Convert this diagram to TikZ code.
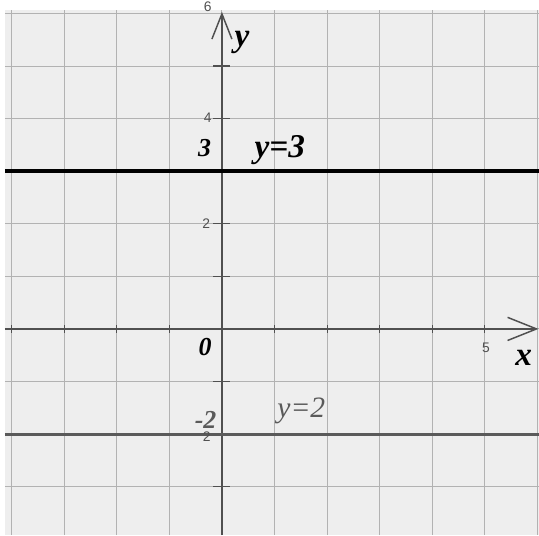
\documentclass[tikz,border=0pt]{standalone}
\usepackage{fontspec}
\setmainfont{Liberation Serif}
\setsansfont{Liberation Sans}
\usetikzlibrary{arrows.meta}
\definecolor{paper}{RGB}{238,238,238}
\definecolor{gridc}{RGB}{178,178,178}
\definecolor{axisc}{RGB}{80,80,80}
\definecolor{lowline}{RGB}{90,90,90}
\tikzset{
  ticklbl/.style={font=\sffamily\fontsize{7.5}{8}\selectfont,text=axisc,inner sep=0pt},
  biglbl/.style={font=\bfseries\itshape\fontsize{18}{19}\selectfont,inner sep=0pt},
  midlbl/.style={font=\bfseries\itshape\fontsize{14}{15}\selectfont,inner sep=0pt},
  greylbl/.style={font=\bfseries\itshape\fontsize{14}{15}\selectfont,text=lowline,inner sep=0pt},
  lowlbl/.style={font=\itshape\fontsize{16}{17}\selectfont,text=lowline,inner sep=0pt},
}
\begin{document}
\begin{tikzpicture}
  \useasboundingbox (-4.22,-3.92) rectangle (6.03,6.255);
  \fill[paper] (-4.125,-3.92) rectangle (6.03,6.065);
  \draw[gridc,line width=0.5pt] (-4.125,-3.92) grid (6.03,6.065);
  % axes
  \coordinate (xl) at (-4.125,0);
  \coordinate (xr) at (6.02,0);
  \coordinate (yb) at (0,-3.92);
  \coordinate (yt) at (0,6.03);
  \draw[axisc,line width=0.8pt,-{Straight Barb[length=5.5mm,width=4.4mm]}] (xl) -- (xr);
  \draw[axisc,line width=0.8pt,-{Straight Barb[length=4.8mm,width=3.8mm]}] (yb) -- (yt);
  \foreach \i in {-4,...,5} \draw[axisc,line width=0.6pt] (\i,-0.07) -- (\i,0.07);
  \foreach \j in {-3,...,5} \draw[axisc,line width=0.6pt] (-0.16,\j) -- (0.16,\j);
  % the two lines
  \coordinate (ta) at (-4.125,3);
  \coordinate (tb) at (6.03,3);
  \coordinate (la) at (-4.125,-2);
  \coordinate (lb) at (6.03,-2);
  \draw[black,line width=2.2pt] (ta) -- (tb);
  \draw[lowline,line width=1.7pt] (la) -- (lb);
  % labels
  \node[ticklbl] (t6) at (-0.27,6.13) {6};
  \node[ticklbl] (t4) at (-0.27,4.01) {4};
  \node[ticklbl] (t2) at (-0.30,2.0) {2};
  \node[ticklbl] (tm2) at (-0.29,-2.05) {2};
  \node[ticklbl] (t5) at (5.02,-0.36) {5};
  \node[midlbl] (three) at (-0.33,3.44) {3};
  \node[midlbl] (zero) at (-0.32,-0.34) {0};
  \node[greylbl] (mtwo) at (-0.31,-1.73) {-2};
  \node[biglbl] (ythree) at (1.10,3.40) {y=3};
  \node[lowlbl] (ytwo) at (1.51,-1.55) {y=2};
  \node[biglbl] (xname) at (5.74,-0.55) {x};
  \node[biglbl] (yname) at (0.38,5.45) {y};
\end{tikzpicture}
\end{document}
